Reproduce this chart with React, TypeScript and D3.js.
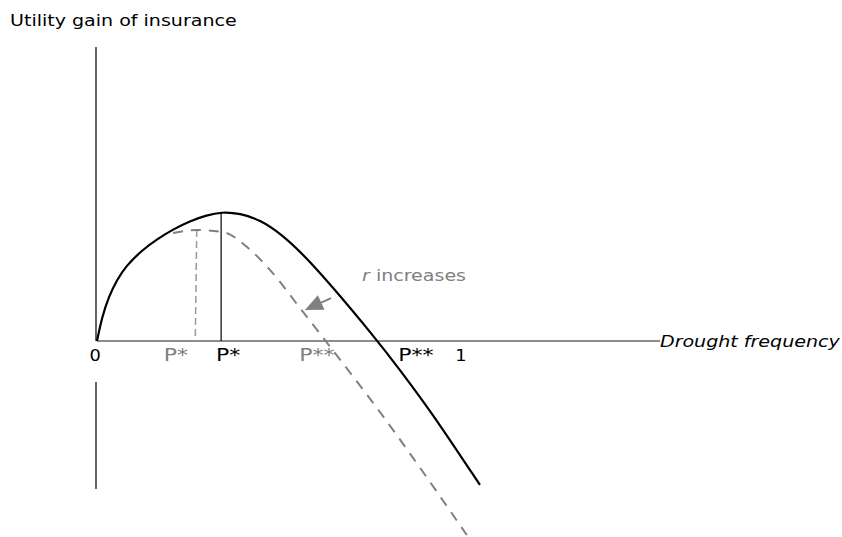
import * as d3 from "d3";

const W = 842;
const H = 537;

// curves: [drought frequency, utility gain]
const solidCurve: [number, number][] = [
  [0, 0], [0.014, 0.188], [0.032, 0.343], [0.055, 0.473], [0.078, 0.576],
  [0.124, 0.705], [0.165, 0.79], [0.209, 0.865], [0.255, 0.93],
  [0.302, 0.975], [0.341, 1.0], [0.393, 0.99], [0.448, 0.938],
  [0.503, 0.837], [0.585, 0.628], [0.772, 0], [0.832, -0.225],
  [0.915, -0.535], [1.052, -1.116],
];
const dashedCurve: [number, number][] = [
  [0.209, 0.837], [0.275, 0.86], [0.346, 0.845], [0.412, 0.729],
  [0.475, 0.551], [0.566, 0.225], [0.626, 0.008], [0.777, -0.55],
  [1.016, -1.504],
];
const dropLines = [
  { x0: 0.274, x1: 0.27, top: 0.86, dashed: true },
  { x0: 0.341, x1: 0.341, top: 0.997, dashed: false },
];
const tickLabels = [
  { x: -0.005, text: "0", color: "#000", size: 15 },
  { x: 0.217, text: "P*", color: "#808080", size: 18.5 },
  { x: 0.36, text: "P*", color: "#000", size: 18.5 },
  { x: 0.604, text: "P**", color: "#808080", size: 18.5 },
  { x: 0.876, text: "P**", color: "#000", size: 18.5 },
  { x: 1.0, text: "1", color: "#000", size: 15 },
];
const arrowFrom: [number, number] = [0.643, 0.333];
const arrowTo: [number, number] = [0.571, 0.24];

const x = d3.scaleLinear().domain([0, 1]).range([97, 461]);
const y = d3.scaleLinear().domain([0, 1]).range([341, 212]);

// the picture's text is a little wider than it is tall
const SX = 1.19;

function Label({ px, py, size, fill = "#000", anchor = "start", italic = false, children }: any) {
  return (
    <text
      transform={`translate(${px},${py}) scale(${SX},1)`}
      fontSize={size}
      fill={fill}
      textAnchor={anchor}
      fontStyle={italic ? "italic" : undefined}
    >
      {children}
    </text>
  );
}

export default function App() {
  const solidLine = d3
    .line<[number, number]>()
    .x((d) => x(d[0]))
    .y((d) => y(d[1]))
    .curve(d3.curveBasis);
  const dashedLine = d3
    .line<[number, number]>()
    .x((d) => x(d[0]))
    .y((d) => y(d[1]))
    .curve(d3.curveMonotoneX);

  const [ax0, ay0] = [x(arrowFrom[0]), y(arrowFrom[1])];
  const [ax1, ay1] = [x(arrowTo[0]), y(arrowTo[1])];
  const ang = Math.atan2(ay1 - ay0, ax1 - ax0);
  const headLen = 18;
  const headW = 8;
  const bx = ax1 - headLen * Math.cos(ang);
  const by = ay1 - headLen * Math.sin(ang);
  const head = [
    [ax1, ay1],
    [bx + headW * Math.sin(ang), by - headW * Math.cos(ang)],
    [bx - headW * Math.sin(ang), by + headW * Math.cos(ang)],
  ]
    .map((p) => p.join(","))
    .join(" ");

  return (
    <svg
      width={W}
      height={H}
      style={{ position: "fixed", left: 0, top: 0, background: "#fff" }}
      fontFamily="DejaVu Sans, sans-serif"
    >
      <Label px={10} py={26} size={16}>
        Utility gain of insurance
      </Label>

      {/* y axis, broken around the origin label */}
      <line x1={x(0) - 1} x2={x(0) - 1} y1={y(2.28)} y2={y(0)} stroke="#000" strokeWidth={1.2} />
      <line x1={x(0) - 1} x2={x(0) - 1} y1={y(-0.318)} y2={y(-1.147)} stroke="#000" strokeWidth={1.2} />

      {/* x axis */}
      <line x1={x(0)} x2={660} y1={y(0)} y2={y(0)} stroke="#666" strokeWidth={1.6} />
      <Label px={660} py={347} size={16} italic>
        Drought frequency
      </Label>

      {dropLines.map((d, i) => (
        <line
          key={i}
          x1={x(d.x0)}
          x2={x(d.x1)}
          y1={y(d.top)}
          y2={y(0)}
          stroke={d.dashed ? "#999" : "#000"}
          strokeWidth={d.dashed ? 1.5 : 1.2}
          strokeDasharray={d.dashed ? "7,4" : undefined}
        />
      ))}

      <path d={dashedLine(dashedCurve) ?? ""} fill="none" stroke="#808080" strokeWidth={2} strokeDasharray="10,8" />
      <path d={solidLine(solidCurve) ?? ""} fill="none" stroke="#000" strokeWidth={2.2} />

      {tickLabels.map((t, i) => (
        <Label key={i} px={x(t.x)} py={361} size={t.size} fill={t.color} anchor="middle">
          {t.text}
        </Label>
      ))}

      <line x1={ax0} y1={ay0} x2={bx} y2={by} stroke="#808080" strokeWidth={2} />
      <polygon points={head} fill="#808080" />
      <Label px={362} py={281} size={16} fill="#808080">
        <tspan fontStyle="italic">r</tspan> increases
      </Label>
    </svg>
  );
}
